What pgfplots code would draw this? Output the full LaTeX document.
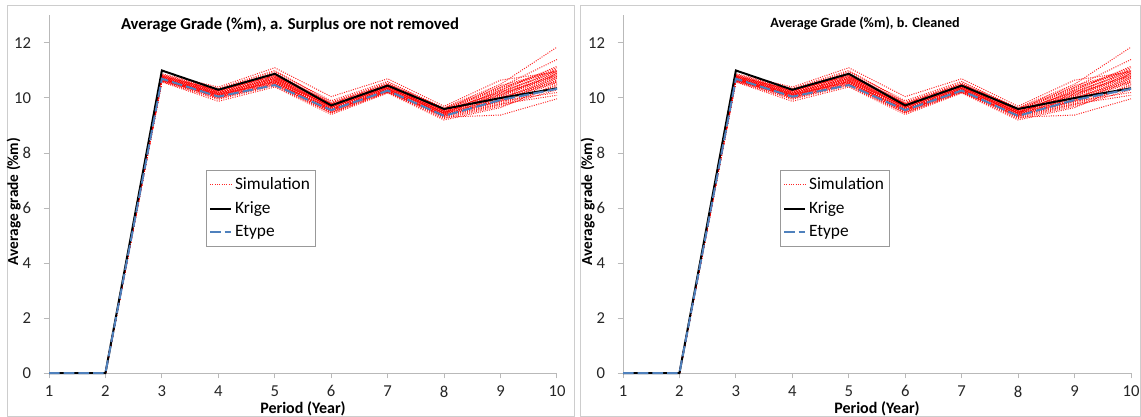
\documentclass[border=0pt]{standalone}
\usepackage{fontspec}
\setmainfont{Carlito}
\usepackage{pgfplots}
\pgfplotsset{compat=1.18}
\usepackage{pgfplotstable}
\definecolor{etblue}{RGB}{79,129,189}
\definecolor{axgray}{RGB}{185,185,185}
\definecolor{framegray}{RGB}{205,205,205}

\pgfplotstableread{
x k e s1 s2 s3 s4 s5 s6 s7 s8 s9 s10 s11 s12 s13 s14 s15 s16 s17 s18 s19 s20 s21 s22 s23 s24 s25 s26 s27 s28 s29 s30 s31 s32
1 0 0 0 0 0 0 0 0 0 0 0 0 0 0 0 0 0 0 0 0 0 0 0 0 0 0 0 0 0 0 0 0 0 0
2 0 0 0 0 0 0 0 0 0 0 0 0 0 0 0 0 0 0 0 0 0 0 0 0 0 0 0 0 0 0 0 0 0 0
3 11.0 10.7 10.70 10.75 10.65 10.80 10.60 10.85 10.70 10.72 10.78 10.68 10.62 10.74 10.82 10.66 10.76 10.58 10.88 10.71 10.64 10.79 10.69 10.73 10.63 10.84 10.67 10.77 10.61 10.81 10.70 10.66 10.75 10.72
4 10.3 10.05 10.10 10.20 10.05 10.25 9.95 10.35 10.15 10.00 10.30 10.12 10.08 10.18 10.28 10.02 10.22 9.88 10.40 10.14 10.06 10.26 10.11 10.19 10.03 10.32 10.09 10.24 9.98 10.27 10.16 10.13 10.21 10.17
5 10.88 10.47 10.60 10.75 10.55 10.85 10.45 11.00 10.70 10.50 10.90 10.65 10.58 10.72 10.80 10.52 10.82 10.40 11.10 10.66 10.60 10.78 10.62 10.76 10.54 10.95 10.64 10.84 10.48 10.88 10.68 10.58 10.70 10.74
6 9.73 9.56 9.60 9.70 9.55 9.75 9.45 9.85 9.65 9.50 9.80 9.62 9.58 9.68 9.72 9.48 9.78 9.40 10.05 9.66 9.52 9.74 9.61 9.70 9.54 9.90 9.57 9.76 9.46 9.82 9.64 9.59 9.69 9.67
7 10.45 10.27 10.30 10.40 10.25 10.45 10.20 10.55 10.35 10.28 10.50 10.32 10.22 10.42 10.38 10.24 10.48 10.18 10.70 10.36 10.30 10.44 10.29 10.40 10.26 10.60 10.33 10.46 10.21 10.52 10.34 10.27 10.41 10.37
8 9.6 9.35 9.40 9.50 9.35 9.55 9.25 9.60 9.45 9.30 9.65 9.42 9.38 9.48 9.52 9.28 9.58 9.20 9.70 9.46 9.34 9.56 9.41 9.50 9.36 9.62 9.44 9.54 9.32 9.59 9.47 9.39 9.49 9.45
9 10.0 9.93 9.90 10.10 9.80 10.20 9.70 10.40 10.00 9.38 10.50 9.95 9.85 10.05 10.25 9.75 10.30 9.65 10.65 10.15 9.90 10.35 10.02 10.12 9.88 10.45 9.98 10.22 9.78 10.38 10.08 9.93 10.18 10.28
10 10.35 10.33 10.60 10.90 10.45 11.00 10.30 11.40 10.75 9.97 11.85 10.70 10.55 10.85 10.95 10.40 11.05 10.50 10.95 10.80 10.65 11.10 10.62 10.88 10.20 11.00 10.72 10.92 10.10 10.98 10.78 10.58 10.83 11.15
}\data

\pgfplotsset{
  sim/.style={color=red, densely dotted, line width=0.75pt, opacity=0.85},
  krige/.style={color=black, line width=1.5pt},
  etype/.style={color=etblue, line width=1.5pt, dash pattern=on 8pt off 3pt},
  panel/.style={
    scale only axis, width=381pt, height=268.125pt,
    xmin=1, xmax=10, ymin=0, ymax=13,
    xtick={1,...,10}, ytick={0,2,...,12},
    axis x line=bottom, axis y line=left,
    axis line style={-, draw=axgray, line width=0.75pt},
    tick style={draw=axgray, line width=0.75pt},
    tick align=outside, major tick length=4pt,
    ticklabel style={font=\fontsize{12.5}{14}\selectfont, text=black!85},
    yticklabel style={xshift=-6pt},
    xticklabel style={yshift=-2pt},
    /pgf/number format/assume math mode=true,
    xlabel={\textbf{Period (Year)}},
    xlabel style={font=\fontsize{12}{14}\selectfont, at={(axis description cs:0.5,0)}, anchor=center, yshift=-26.5pt},
    ylabel={\textbf{Average grade (\%m)}},
    ylabel style={font=\fontsize{11.5}{13}\selectfont, at={(axis description cs:0,0.48)}, anchor=center, yshift=26.5pt},
    legend style={at={(0.309,0.568)}, anchor=north west, draw=gray!80, line width=0.6pt,
      font=\fontsize{13}{15}\selectfont, inner xsep=2pt, inner ysep=3.5pt,
      row sep=3.5pt, cells={anchor=west}},
    legend cell align=left,
    legend image code/.code={\draw[#1] (0pt,0pt) -- (16pt,0pt);},
    clip=false,
  }
}

\begin{document}
\begin{tikzpicture}
\useasboundingbox (0,0) rectangle (855.75pt,-312.75pt);
\draw[framegray, line width=0.75pt] (5.25pt,-4.5pt) rectangle (430.5pt,-312pt);
\draw[framegray, line width=0.75pt] (435pt,-4.5pt) rectangle (855pt,-312pt);

\begin{axis}[panel, at={(36.75pt,-279.75pt)}, anchor=south west]
\addplot[sim] table[x=x,y=s1]{\data};
\addlegendentry{Simulation}
\pgfplotsinvokeforeach{2,...,32}{\addplot[sim, forget plot] table[x=x,y=s#1]{\data};}
\addplot[krige] table[x=x,y=k]{\data};
\addlegendentry{Krige}
\addplot[etype] table[x=x,y=e]{\data};
\addlegendentry{Etype}
\end{axis}

\begin{axis}[panel, at={(467.25pt,-279.75pt)}, anchor=south west]
\addplot[sim] table[x=x,y=s1]{\data};
\addlegendentry{Simulation}
\pgfplotsinvokeforeach{2,...,32}{\addplot[sim, forget plot] table[x=x,y=s#1]{\data};}
\addplot[krige] table[x=x,y=k]{\data};
\addlegendentry{Krige}
\addplot[etype] table[x=x,y=e]{\data};
\addlegendentry{Etype}
\end{axis}

\node[font=\bfseries\fontsize{12.5}{15}\selectfont] at (217.5pt,-18.75pt) {Average Grade (\%m), a. Surplus ore not removed};
\node[font=\bfseries\fontsize{10.6}{13}\selectfont] at (648.75pt,-17.25pt) {Average Grade (\%m), b. Cleaned};
\end{tikzpicture}
\end{document}
